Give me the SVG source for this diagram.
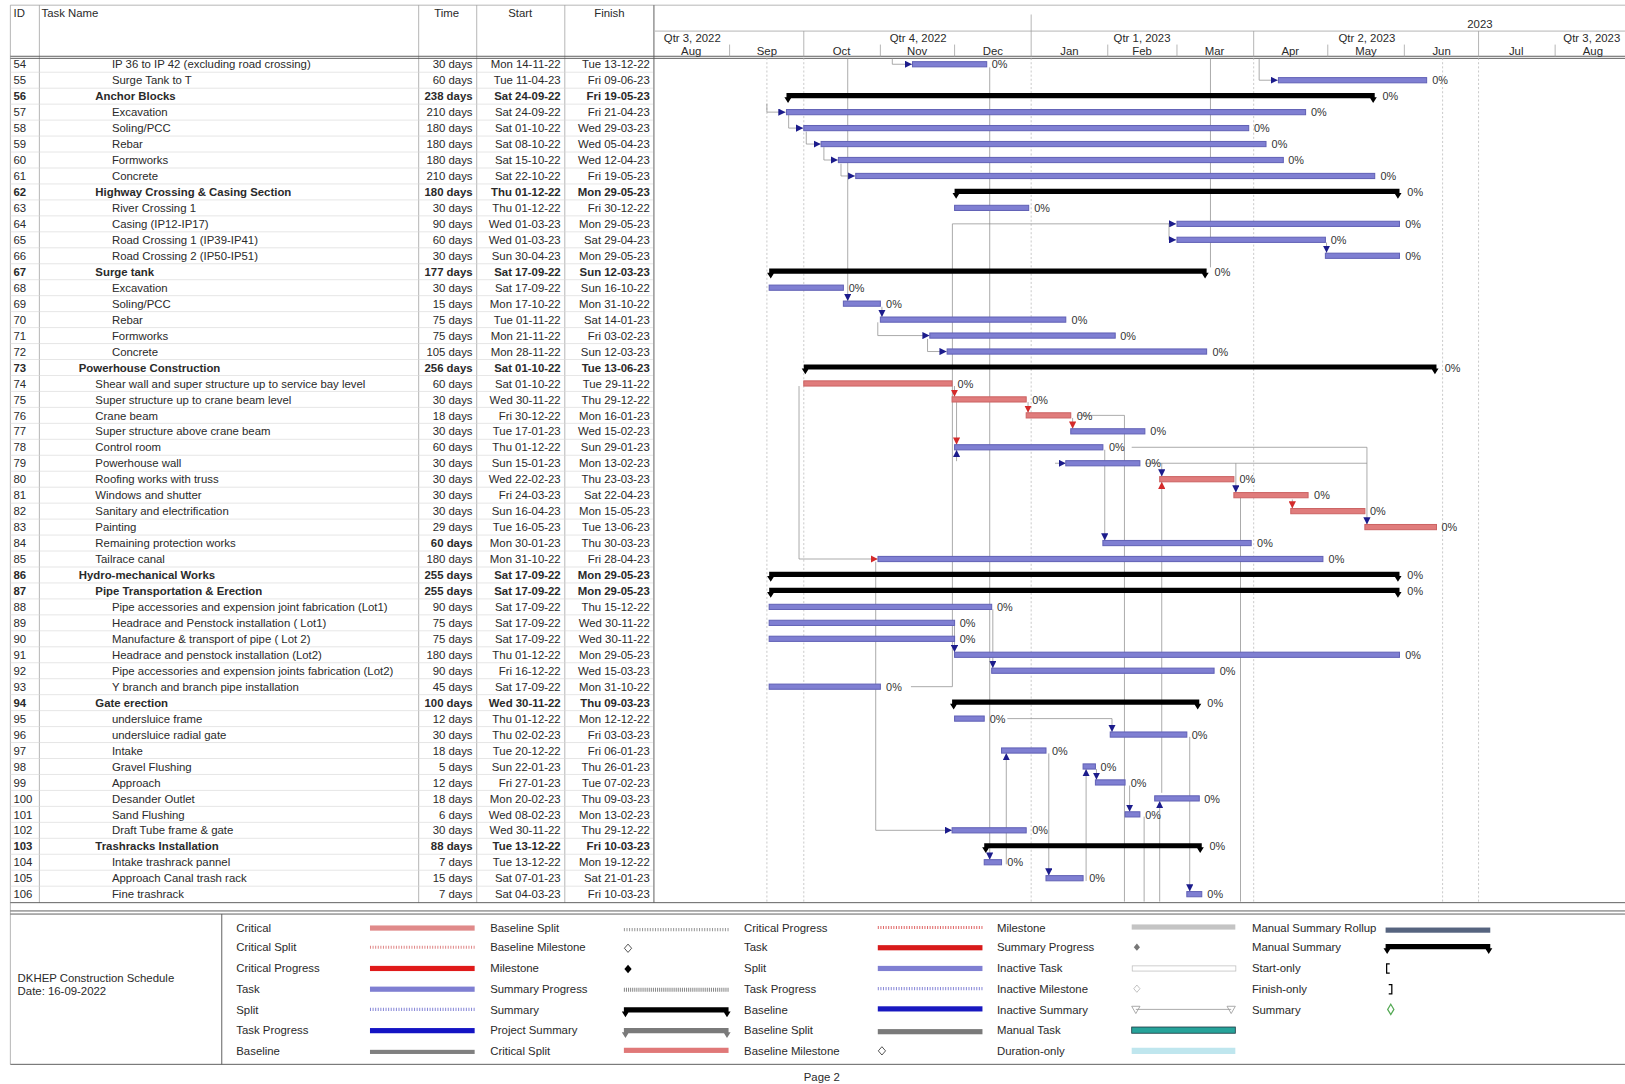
<svg xmlns="http://www.w3.org/2000/svg" width="1625" height="1084" viewBox="0 0 1625 1084">
<defs>
<style>
.t{font-family:"Liberation Sans",Arial,sans-serif;font-size:11px;fill:#2a2a2a}
.b{font-weight:bold}
.e{text-anchor:end}
.m{text-anchor:middle}
.p{font-family:"Liberation Sans",Arial,sans-serif;font-size:10.5px;fill:#333}
.bar{fill:#7f7fd2;stroke:#6262b6;stroke-width:1}
.crit{fill:#e07c7c;stroke:#cc6464;stroke-width:1}
.sum{fill:#000}
.lnk{fill:none;stroke:#8a8a8a;stroke-width:0.7}
.rl{fill:none;stroke:#d6d6d6;stroke-width:0.6}
.cl{fill:none;stroke:#9a9a9a;stroke-width:0.7}
.dk{fill:none;stroke:#555;stroke-width:0.9}
.gd{fill:none;stroke:#b5b5b5;stroke-width:0.7;stroke-dasharray:2 2}
</style>
<marker id="ab" markerUnits="userSpaceOnUse" markerWidth="7" markerHeight="7" viewBox="0 0 10 10" refX="10" refY="5" orient="auto"><path d="M0,0L10,5L0,10Z" fill="#1c1c8c"/></marker>
<marker id="ar" markerUnits="userSpaceOnUse" markerWidth="7" markerHeight="7" viewBox="0 0 10 10" refX="10" refY="5" orient="auto"><path d="M0,0L10,5L0,10Z" fill="#d42a2a"/></marker>
</defs>
<rect width="1625" height="1084" fill="#fff"/>
<g transform="scale(1.03635)">
<g id="frame">
<path class="cl" d="M10,5H1568M10,5V1027M38,5V871M404,5V871M460,5V871M545,5V871"/>
<path class="dk" d="M631,5V871M10,54.3H1568M10,56.3H1568M10,871H1568M10,879H1568M10,882H1568M214,882V1027M10,1027H1568"/>
<path class="rl" d="M10,69.7H630M10,85.1H630M10,100.5H630M10,115.9H630M10,131.3H630M10,146.7H630M10,162.1H630M10,177.5H630M10,192.9H630M10,208.3H630M10,223.7H630M10,239.1H630M10,254.5H630M10,269.9H630M10,285.3H630M10,300.7H630M10,316.1H630M10,331.5H630M10,346.9H630M10,362.3H630M10,377.7H630M10,393.1H630M10,408.5H630M10,423.9H630M10,439.3H630M10,454.7H630M10,470.1H630M10,485.5H630M10,500.9H630M10,516.3H630M10,531.7H630M10,547.1H630M10,562.5H630M10,577.9H630M10,593.3H630M10,608.7H630M10,624.1H630M10,639.5H630M10,654.9H630M10,670.3H630M10,685.7H630M10,701.1H630M10,716.5H630M10,731.9H630M10,747.3H630M10,762.7H630M10,778.1H630M10,793.5H630M10,808.9H630M10,824.3H630M10,839.7H630M10,855.1H630"/>
<text class="t" x="13" y="16">ID</text>
<text class="t" x="40" y="16">Task Name</text>
<text class="t m" x="431" y="16">Time</text>
<text class="t m" x="502" y="16">Start</text>
<text class="t m" x="588" y="16">Finish</text>
</g>
<g id="timescale">
<path class="cl" d="M632,30H1568M995,14V30M775.6,30V55M995,30V55M1209.7,30V55M1426.7,30V55M704,43V55M849.5,43V55M921.1,43V55M1068.9,43V55M1135.7,43V55M1281.2,43V55M1355.1,43V55M1500.6,43V55"/>
<text class="t m" x="1428" y="27">2023</text>
<text class="t m" x="668" y="41">Qtr 3, 2022</text>
<text class="t m" x="886" y="41">Qtr 4, 2022</text>
<text class="t m" x="1102" y="41">Qtr 1, 2023</text>
<text class="t m" x="1319" y="41">Qtr 2, 2023</text>
<text class="t m" x="1536" y="41">Qtr 3, 2023</text>
<text class="t m" x="667" y="53">Aug</text>
<text class="t m" x="740" y="53">Sep</text>
<text class="t m" x="812" y="53">Oct</text>
<text class="t m" x="885" y="53">Nov</text>
<text class="t m" x="958" y="53">Dec</text>
<text class="t m" x="1032" y="53">Jan</text>
<text class="t m" x="1102" y="53">Feb</text>
<text class="t m" x="1172" y="53">Mar</text>
<text class="t m" x="1245" y="53">Apr</text>
<text class="t m" x="1318" y="53">May</text>
<text class="t m" x="1391" y="53">Jun</text>
<text class="t m" x="1463" y="53">Jul</text>
<text class="t m" x="1537" y="53">Aug</text>
<path class="gd" d="M740,56V871M775.6,56V871M995,56V871M1209.7,56V871M1392,56V871M1426.7,56V871"/>
</g>
<g id="rows" transform="translate(0,1)">
<text class="t" x="13" y="65">54</text><text class="t" x="108" y="65">IP 36 to IP 42 (excluding road crossing)</text><text class="t e" x="456" y="65">30 days</text><text class="t e" x="541" y="65">Mon 14-11-22</text><text class="t e" x="627" y="65">Tue 13-12-22</text>
<text class="t" x="13" y="80.4">55</text><text class="t" x="108" y="80.4">Surge Tank to T</text><text class="t e" x="456" y="80.4">60 days</text><text class="t e" x="541" y="80.4">Tue 11-04-23</text><text class="t e" x="627" y="80.4">Fri 09-06-23</text>
<text class="t b" x="13" y="95.8">56</text><text class="t b" x="92" y="95.8">Anchor Blocks</text><text class="t b e" x="456" y="95.8">238 days</text><text class="t b e" x="541" y="95.8">Sat 24-09-22</text><text class="t b e" x="627" y="95.8">Fri 19-05-23</text>
<text class="t" x="13" y="111.2">57</text><text class="t" x="108" y="111.2">Excavation</text><text class="t e" x="456" y="111.2">210 days</text><text class="t e" x="541" y="111.2">Sat 24-09-22</text><text class="t e" x="627" y="111.2">Fri 21-04-23</text>
<text class="t" x="13" y="126.6">58</text><text class="t" x="108" y="126.6">Soling/PCC</text><text class="t e" x="456" y="126.6">180 days</text><text class="t e" x="541" y="126.6">Sat 01-10-22</text><text class="t e" x="627" y="126.6">Wed 29-03-23</text>
<text class="t" x="13" y="142">59</text><text class="t" x="108" y="142">Rebar</text><text class="t e" x="456" y="142">180 days</text><text class="t e" x="541" y="142">Sat 08-10-22</text><text class="t e" x="627" y="142">Wed 05-04-23</text>
<text class="t" x="13" y="157.4">60</text><text class="t" x="108" y="157.4">Formworks</text><text class="t e" x="456" y="157.4">180 days</text><text class="t e" x="541" y="157.4">Sat 15-10-22</text><text class="t e" x="627" y="157.4">Wed 12-04-23</text>
<text class="t" x="13" y="172.8">61</text><text class="t" x="108" y="172.8">Concrete</text><text class="t e" x="456" y="172.8">210 days</text><text class="t e" x="541" y="172.8">Sat 22-10-22</text><text class="t e" x="627" y="172.8">Fri 19-05-23</text>
<text class="t b" x="13" y="188.2">62</text><text class="t b" x="92" y="188.2">Highway Crossing &amp; Casing Section</text><text class="t b e" x="456" y="188.2">180 days</text><text class="t b e" x="541" y="188.2">Thu 01-12-22</text><text class="t b e" x="627" y="188.2">Mon 29-05-23</text>
<text class="t" x="13" y="203.6">63</text><text class="t" x="108" y="203.6">River Crossing 1</text><text class="t e" x="456" y="203.6">30 days</text><text class="t e" x="541" y="203.6">Thu 01-12-22</text><text class="t e" x="627" y="203.6">Fri 30-12-22</text>
<text class="t" x="13" y="219">64</text><text class="t" x="108" y="219">Casing (IP12-IP17)</text><text class="t e" x="456" y="219">90 days</text><text class="t e" x="541" y="219">Wed 01-03-23</text><text class="t e" x="627" y="219">Mon 29-05-23</text>
<text class="t" x="13" y="234.4">65</text><text class="t" x="108" y="234.4">Road Crossing 1 (IP39-IP41)</text><text class="t e" x="456" y="234.4">60 days</text><text class="t e" x="541" y="234.4">Wed 01-03-23</text><text class="t e" x="627" y="234.4">Sat 29-04-23</text>
<text class="t" x="13" y="249.8">66</text><text class="t" x="108" y="249.8">Road Crossing 2 (IP50-IP51)</text><text class="t e" x="456" y="249.8">30 days</text><text class="t e" x="541" y="249.8">Sun 30-04-23</text><text class="t e" x="627" y="249.8">Mon 29-05-23</text>
<text class="t b" x="13" y="265.2">67</text><text class="t b" x="92" y="265.2">Surge tank</text><text class="t b e" x="456" y="265.2">177 days</text><text class="t b e" x="541" y="265.2">Sat 17-09-22</text><text class="t b e" x="627" y="265.2">Sun 12-03-23</text>
<text class="t" x="13" y="280.6">68</text><text class="t" x="108" y="280.6">Excavation</text><text class="t e" x="456" y="280.6">30 days</text><text class="t e" x="541" y="280.6">Sat 17-09-22</text><text class="t e" x="627" y="280.6">Sun 16-10-22</text>
<text class="t" x="13" y="296">69</text><text class="t" x="108" y="296">Soling/PCC</text><text class="t e" x="456" y="296">15 days</text><text class="t e" x="541" y="296">Mon 17-10-22</text><text class="t e" x="627" y="296">Mon 31-10-22</text>
<text class="t" x="13" y="311.4">70</text><text class="t" x="108" y="311.4">Rebar</text><text class="t e" x="456" y="311.4">75 days</text><text class="t e" x="541" y="311.4">Tue 01-11-22</text><text class="t e" x="627" y="311.4">Sat 14-01-23</text>
<text class="t" x="13" y="326.8">71</text><text class="t" x="108" y="326.8">Formworks</text><text class="t e" x="456" y="326.8">75 days</text><text class="t e" x="541" y="326.8">Mon 21-11-22</text><text class="t e" x="627" y="326.8">Fri 03-02-23</text>
<text class="t" x="13" y="342.2">72</text><text class="t" x="108" y="342.2">Concrete</text><text class="t e" x="456" y="342.2">105 days</text><text class="t e" x="541" y="342.2">Mon 28-11-22</text><text class="t e" x="627" y="342.2">Sun 12-03-23</text>
<text class="t b" x="13" y="357.6">73</text><text class="t b" x="76" y="357.6">Powerhouse Construction</text><text class="t b e" x="456" y="357.6">256 days</text><text class="t b e" x="541" y="357.6">Sat 01-10-22</text><text class="t b e" x="627" y="357.6">Tue 13-06-23</text>
<text class="t" x="13" y="373">74</text><text class="t" x="92" y="373">Shear wall and super structure up to service bay level</text><text class="t e" x="456" y="373">60 days</text><text class="t e" x="541" y="373">Sat 01-10-22</text><text class="t e" x="627" y="373">Tue 29-11-22</text>
<text class="t" x="13" y="388.4">75</text><text class="t" x="92" y="388.4">Super structure  up to crane beam level</text><text class="t e" x="456" y="388.4">30 days</text><text class="t e" x="541" y="388.4">Wed 30-11-22</text><text class="t e" x="627" y="388.4">Thu 29-12-22</text>
<text class="t" x="13" y="403.8">76</text><text class="t" x="92" y="403.8">Crane beam</text><text class="t e" x="456" y="403.8">18 days</text><text class="t e" x="541" y="403.8">Fri 30-12-22</text><text class="t e" x="627" y="403.8">Mon 16-01-23</text>
<text class="t" x="13" y="419.2">77</text><text class="t" x="92" y="419.2">Super structure above crane beam</text><text class="t e" x="456" y="419.2">30 days</text><text class="t e" x="541" y="419.2">Tue 17-01-23</text><text class="t e" x="627" y="419.2">Wed 15-02-23</text>
<text class="t" x="13" y="434.6">78</text><text class="t" x="92" y="434.6">Control room</text><text class="t e" x="456" y="434.6">60 days</text><text class="t e" x="541" y="434.6">Thu 01-12-22</text><text class="t e" x="627" y="434.6">Sun 29-01-23</text>
<text class="t" x="13" y="450">79</text><text class="t" x="92" y="450">Powerhouse wall</text><text class="t e" x="456" y="450">30 days</text><text class="t e" x="541" y="450">Sun 15-01-23</text><text class="t e" x="627" y="450">Mon 13-02-23</text>
<text class="t" x="13" y="465.4">80</text><text class="t" x="92" y="465.4">Roofing works with truss</text><text class="t e" x="456" y="465.4">30 days</text><text class="t e" x="541" y="465.4">Wed 22-02-23</text><text class="t e" x="627" y="465.4">Thu 23-03-23</text>
<text class="t" x="13" y="480.8">81</text><text class="t" x="92" y="480.8">Windows and shutter</text><text class="t e" x="456" y="480.8">30 days</text><text class="t e" x="541" y="480.8">Fri 24-03-23</text><text class="t e" x="627" y="480.8">Sat 22-04-23</text>
<text class="t" x="13" y="496.2">82</text><text class="t" x="92" y="496.2">Sanitary and electrification</text><text class="t e" x="456" y="496.2">30 days</text><text class="t e" x="541" y="496.2">Sun 16-04-23</text><text class="t e" x="627" y="496.2">Mon 15-05-23</text>
<text class="t" x="13" y="511.6">83</text><text class="t" x="92" y="511.6">Painting</text><text class="t e" x="456" y="511.6">29 days</text><text class="t e" x="541" y="511.6">Tue 16-05-23</text><text class="t e" x="627" y="511.6">Tue 13-06-23</text>
<text class="t" x="13" y="527">84</text><text class="t" x="92" y="527">Remaining protection works</text><text class="t b e" x="456" y="527">60 days</text><text class="t e" x="541" y="527">Mon 30-01-23</text><text class="t e" x="627" y="527">Thu 30-03-23</text>
<text class="t" x="13" y="542.4">85</text><text class="t" x="92" y="542.4">Tailrace canal</text><text class="t e" x="456" y="542.4">180 days</text><text class="t e" x="541" y="542.4">Mon 31-10-22</text><text class="t e" x="627" y="542.4">Fri 28-04-23</text>
<text class="t b" x="13" y="557.8">86</text><text class="t b" x="76" y="557.8">Hydro-mechanical Works</text><text class="t b e" x="456" y="557.8">255 days</text><text class="t b e" x="541" y="557.8">Sat 17-09-22</text><text class="t b e" x="627" y="557.8">Mon 29-05-23</text>
<text class="t b" x="13" y="573.2">87</text><text class="t b" x="92" y="573.2">Pipe Transportation &amp; Erection</text><text class="t b e" x="456" y="573.2">255 days</text><text class="t b e" x="541" y="573.2">Sat 17-09-22</text><text class="t b e" x="627" y="573.2">Mon 29-05-23</text>
<text class="t" x="13" y="588.6">88</text><text class="t" x="108" y="588.6">Pipe accessories and expension joint fabrication  (Lot1)</text><text class="t e" x="456" y="588.6">90 days</text><text class="t e" x="541" y="588.6">Sat 17-09-22</text><text class="t e" x="627" y="588.6">Thu 15-12-22</text>
<text class="t" x="13" y="604">89</text><text class="t" x="108" y="604">Headrace and Penstock installation ( Lot1)</text><text class="t e" x="456" y="604">75 days</text><text class="t e" x="541" y="604">Sat 17-09-22</text><text class="t e" x="627" y="604">Wed 30-11-22</text>
<text class="t" x="13" y="619.4">90</text><text class="t" x="108" y="619.4">Manufacture &amp; transport of pipe ( Lot 2)</text><text class="t e" x="456" y="619.4">75 days</text><text class="t e" x="541" y="619.4">Sat 17-09-22</text><text class="t e" x="627" y="619.4">Wed 30-11-22</text>
<text class="t" x="13" y="634.8">91</text><text class="t" x="108" y="634.8">Headrace and penstock installation (Lot2)</text><text class="t e" x="456" y="634.8">180 days</text><text class="t e" x="541" y="634.8">Thu 01-12-22</text><text class="t e" x="627" y="634.8">Mon 29-05-23</text>
<text class="t" x="13" y="650.2">92</text><text class="t" x="108" y="650.2">Pipe accessories and expension joints fabrication (Lot2)</text><text class="t e" x="456" y="650.2">90 days</text><text class="t e" x="541" y="650.2">Fri 16-12-22</text><text class="t e" x="627" y="650.2">Wed 15-03-23</text>
<text class="t" x="13" y="665.6">93</text><text class="t" x="108" y="665.6">Y branch and branch pipe installation</text><text class="t e" x="456" y="665.6">45 days</text><text class="t e" x="541" y="665.6">Sat 17-09-22</text><text class="t e" x="627" y="665.6">Mon 31-10-22</text>
<text class="t b" x="13" y="681">94</text><text class="t b" x="92" y="681">Gate erection</text><text class="t b e" x="456" y="681">100 days</text><text class="t b e" x="541" y="681">Wed 30-11-22</text><text class="t b e" x="627" y="681">Thu 09-03-23</text>
<text class="t" x="13" y="696.4">95</text><text class="t" x="108" y="696.4">undersluice frame</text><text class="t e" x="456" y="696.4">12 days</text><text class="t e" x="541" y="696.4">Thu 01-12-22</text><text class="t e" x="627" y="696.4">Mon 12-12-22</text>
<text class="t" x="13" y="711.8">96</text><text class="t" x="108" y="711.8">undersluice radial gate</text><text class="t e" x="456" y="711.8">30 days</text><text class="t e" x="541" y="711.8">Thu 02-02-23</text><text class="t e" x="627" y="711.8">Fri 03-03-23</text>
<text class="t" x="13" y="727.2">97</text><text class="t" x="108" y="727.2">Intake</text><text class="t e" x="456" y="727.2">18 days</text><text class="t e" x="541" y="727.2">Tue 20-12-22</text><text class="t e" x="627" y="727.2">Fri 06-01-23</text>
<text class="t" x="13" y="742.6">98</text><text class="t" x="108" y="742.6">Gravel Flushing</text><text class="t e" x="456" y="742.6">5 days</text><text class="t e" x="541" y="742.6">Sun 22-01-23</text><text class="t e" x="627" y="742.6">Thu 26-01-23</text>
<text class="t" x="13" y="758">99</text><text class="t" x="108" y="758">Approach</text><text class="t e" x="456" y="758">12 days</text><text class="t e" x="541" y="758">Fri 27-01-23</text><text class="t e" x="627" y="758">Tue 07-02-23</text>
<text class="t" x="13" y="773.4">100</text><text class="t" x="108" y="773.4">Desander Outlet</text><text class="t e" x="456" y="773.4">18 days</text><text class="t e" x="541" y="773.4">Mon 20-02-23</text><text class="t e" x="627" y="773.4">Thu 09-03-23</text>
<text class="t" x="13" y="788.8">101</text><text class="t" x="108" y="788.8">Sand Flushing</text><text class="t e" x="456" y="788.8">6 days</text><text class="t e" x="541" y="788.8">Wed 08-02-23</text><text class="t e" x="627" y="788.8">Mon 13-02-23</text>
<text class="t" x="13" y="804.2">102</text><text class="t" x="108" y="804.2">Draft Tube frame &amp; gate</text><text class="t e" x="456" y="804.2">30 days</text><text class="t e" x="541" y="804.2">Wed 30-11-22</text><text class="t e" x="627" y="804.2">Thu 29-12-22</text>
<text class="t b" x="13" y="819.6">103</text><text class="t b" x="92" y="819.6">Trashracks Installation</text><text class="t b e" x="456" y="819.6">88 days</text><text class="t b e" x="541" y="819.6">Tue 13-12-22</text><text class="t b e" x="627" y="819.6">Fri 10-03-23</text>
<text class="t" x="13" y="835">104</text><text class="t" x="108" y="835">Intake trashrack pannel</text><text class="t e" x="456" y="835">7 days</text><text class="t e" x="541" y="835">Tue 13-12-22</text><text class="t e" x="627" y="835">Mon 19-12-22</text>
<text class="t" x="13" y="850.4">105</text><text class="t" x="108" y="850.4">Approach Canal trash rack</text><text class="t e" x="456" y="850.4">15 days</text><text class="t e" x="541" y="850.4">Sat 07-01-23</text><text class="t e" x="627" y="850.4">Sat 21-01-23</text>
<text class="t" x="13" y="865.8">106</text><text class="t" x="108" y="865.8">Fine trashrack</text><text class="t e" x="456" y="865.8">7 days</text><text class="t e" x="541" y="865.8">Sat 04-03-23</text><text class="t e" x="627" y="865.8">Fri 10-03-23</text>
</g>
<g id="connectors">
<path class="lnk" marker-end="url(#ab)" d="M861,56V62H880"/>
<path class="lnk" marker-end="url(#ab)" d="M1215,56V77.4H1233"/>
<path class="lnk" marker-end="url(#ab)" d="M740,100V108.2H758"/>
<path class="lnk" marker-end="url(#ab)" d="M761,111V123.6H775"/>
<path class="lnk" marker-end="url(#ab)" d="M778,127V139H792"/>
<path class="lnk" marker-end="url(#ab)" d="M795,142V154.4H808.5"/>
<path class="lnk" marker-end="url(#ab)" d="M811.5,158V169.8H825"/>
<path class="lnk" marker-end="url(#ab)" d="M879,662.6H919V216H1135"/>
<path class="lnk" marker-end="url(#ab)" d="M1128,216V231.4H1135"/>
<path class="lnk" marker-end="url(#ab)" d="M1280,234V244"/>
<path class="lnk" marker-end="url(#ab)" d="M818,56V290.5"/>
<path class="lnk" marker-end="url(#ab)" d="M851,296V305.9"/>
<path class="lnk" marker-end="url(#ab)" d="M847,311V323.8H897"/>
<path class="lnk" marker-end="url(#ab)" d="M895,327V339.2H913.5"/>
<path class="lnk" marker-end="url(#ar)" d="M771,372.5V539.4H847"/>
<path class="lnk" marker-end="url(#ar)" d="M921,372.5V382.9"/>
<path class="lnk" marker-end="url(#ar)" d="M992,388V398.3"/>
<path class="lnk" marker-end="url(#ar)" d="M1035,403.3V413.7"/>
<path class="lnk" marker-end="url(#ar)" d="M923,388V429.1"/>
<path class="lnk" marker-end="url(#ab)" d="M923,445V434.1"/>
<path class="lnk" marker-end="url(#ab)" d="M1018,447H1028.4"/>
<path class="lnk" marker-end="url(#ab)" d="M1092,431.6H1319V506.1"/>
<path class="lnk" d="M1105,447H1319"/>
<path class="lnk" marker-end="url(#ab)" d="M1121,447V459.9"/>
<path class="lnk" marker-end="url(#ab)" d="M1192.5,447V475.3"/>
<path class="lnk" marker-end="url(#ar)" d="M1121,765V464.9"/>
<path class="lnk" d="M1040,400.8H1085V870"/>
<path class="lnk" marker-end="url(#ab)" d="M1066,434V521.5"/>
<path class="lnk" d="M1197,480V870"/>
<path class="lnk" marker-end="url(#ar)" d="M1247,482V490.7"/>
<path class="lnk" marker-end="url(#ab)" d="M958,588V644.7"/>
<path class="lnk" marker-end="url(#ab)" d="M921,604V629.3"/>
<path class="lnk" marker-end="url(#ab)" d="M845,542V801.2H918.7"/>
<path class="lnk" marker-end="url(#ab)" d="M955,65V829.5"/>
<path class="lnk" marker-end="url(#ab)" d="M972,693.4H1073V706.3"/>
<path class="lnk" marker-end="url(#ab)" d="M971,834V726.7"/>
<path class="lnk" marker-end="url(#ab)" d="M1012,727V844.9"/>
<path class="lnk" marker-end="url(#ab)" d="M1048,850V742.1"/>
<path class="lnk" marker-end="url(#ab)" d="M1058,742V752.5"/>
<path class="lnk" marker-end="url(#ab)" d="M1090,758V783.3"/>
<path class="lnk" d="M1104,788V870"/>
<path class="lnk" marker-end="url(#ab)" d="M1119,870V772.9"/>
<path class="lnk" marker-end="url(#ab)" d="M1148,711V860.3"/>
<path class="lnk" d="M1168,56V258"/>
</g>
<g id="bars">
<rect class="bar" x="880.5" y="59.5" width="71.6" height="5"/>
<rect class="bar" x="1233.6" y="74.9" width="143" height="5"/>
<path id="s56" class="sum" d="M758.9,89.8H1326.5V94.8H758.9Z M756.9,93.8H763.9L760.4,99.3Z M1321.5,93.8H1328.5L1325,99.3Z"/>
<rect class="bar" x="758.9" y="105.7" width="500.9" height="5"/>
<rect class="bar" x="775.6" y="121.1" width="429.3" height="5"/>
<rect class="bar" x="792.3" y="136.5" width="429.3" height="5"/>
<rect class="bar" x="809" y="151.9" width="429.3" height="5"/>
<rect class="bar" x="825.7" y="167.3" width="500.8" height="5"/>
<path id="s62" class="sum" d="M921.1,182.2H1350.4V187.2H921.1Z M919.1,186.2H926.1L922.6,191.7Z M1345.4,186.2H1352.4L1348.9,191.7Z"/>
<rect class="bar" x="921.1" y="198.1" width="71.5" height="5"/>
<rect class="bar" x="1135.7" y="213.5" width="214.7" height="5"/>
<rect class="bar" x="1135.7" y="228.9" width="143.2" height="5"/>
<rect class="bar" x="1278.9" y="244.3" width="71.5" height="5"/>
<path id="s67" class="sum" d="M742.2,259.2H1164.3V264.2H742.2Z M740.2,263.2H747.2L743.7,268.7Z M1159.3,263.2H1166.3L1162.8,268.7Z"/>
<rect class="bar" x="742.2" y="275.1" width="71.6" height="5"/>
<rect class="bar" x="813.8" y="290.5" width="35.7" height="5"/>
<rect class="bar" x="849.5" y="305.9" width="178.9" height="5"/>
<rect class="bar" x="897.2" y="321.3" width="178.9" height="5"/>
<rect class="bar" x="913.9" y="336.7" width="250.4" height="5"/>
<path id="s73" class="sum" d="M775.6,351.6H1386.1V356.6H775.6Z M773.6,355.6H780.6L777.1,361.1Z M1381.1,355.6H1388.1L1384.6,361.1Z"/>
<rect class="crit" x="775.6" y="367.5" width="143.1" height="5"/>
<rect class="crit" x="918.7" y="382.9" width="71.5" height="5"/>
<rect class="crit" x="990.2" y="398.3" width="43" height="5"/>
<rect class="bar" x="1033.2" y="413.7" width="71.5" height="5"/>
<rect class="bar" x="921.1" y="429.1" width="143.1" height="5"/>
<rect class="bar" x="1028.4" y="444.5" width="71.5" height="5"/>
<rect class="crit" x="1119" y="459.9" width="71.6" height="5"/>
<rect class="crit" x="1190.6" y="475.3" width="71.6" height="5"/>
<rect class="crit" x="1245.5" y="490.7" width="71.5" height="5"/>
<rect class="crit" x="1317" y="506.1" width="69.1" height="5"/>
<rect class="bar" x="1064.2" y="521.5" width="143.1" height="5"/>
<rect class="bar" x="847.2" y="536.9" width="429.3" height="5"/>
<path id="s86" class="sum" d="M742.2,551.8H1350.4V556.8H742.2Z M740.2,555.8H747.2L743.7,561.3Z M1345.4,555.8H1352.4L1348.9,561.3Z"/>
<path id="s87" class="sum" d="M742.2,567.2H1350.4V572.2H742.2Z M740.2,571.2H747.2L743.7,576.7Z M1345.4,571.2H1352.4L1348.9,576.7Z"/>
<rect class="bar" x="742.2" y="583.1" width="214.7" height="5"/>
<rect class="bar" x="742.2" y="598.5" width="178.9" height="5"/>
<rect class="bar" x="742.2" y="613.9" width="178.9" height="5"/>
<rect class="bar" x="921.1" y="629.3" width="429.3" height="5"/>
<rect class="bar" x="956.9" y="644.7" width="214.6" height="5"/>
<rect class="bar" x="742.2" y="660.1" width="107.3" height="5"/>
<path id="s94" class="sum" d="M918.7,675H1157.2V680H918.7Z M916.7,679H923.7L920.2,684.5Z M1152.2,679H1159.2L1155.7,684.5Z"/>
<rect class="bar" x="921.1" y="690.9" width="28.6" height="5"/>
<rect class="bar" x="1071.3" y="706.3" width="73.9" height="5"/>
<rect class="bar" x="966.4" y="721.7" width="42.9" height="5"/>
<rect class="bar" x="1045.1" y="737.1" width="11.9" height="5"/>
<rect class="bar" x="1057" y="752.5" width="28.6" height="5"/>
<rect class="bar" x="1114.2" y="767.9" width="43" height="5"/>
<rect class="bar" x="1085.6" y="783.3" width="14.3" height="5"/>
<rect class="bar" x="918.7" y="798.7" width="71.5" height="5"/>
<path id="s103" class="sum" d="M949.7,813.6H1159.6V818.6H949.7Z M947.7,817.6H954.7L951.2,823.1Z M1154.6,817.6H1161.6L1158.1,823.1Z"/>
<rect class="bar" x="949.7" y="829.5" width="16.7" height="5"/>
<rect class="bar" x="1009.3" y="844.9" width="35.8" height="5"/>
<rect class="bar" x="1145.2" y="860.3" width="14.4" height="5"/>
</g>
<g id="progress-labels" transform="translate(0,1)">
<text class="p" x="957" y="65">0%</text><text class="p" x="1382" y="80.4">0%</text><text class="p" x="1334" y="95.8">0%</text><text class="p" x="1265" y="111.2">0%</text><text class="p" x="1210" y="126.6">0%</text><text class="p" x="1227" y="142">0%</text><text class="p" x="1243" y="157.4">0%</text><text class="p" x="1332" y="172.8">0%</text><text class="p" x="1358" y="188.2">0%</text><text class="p" x="998" y="203.6">0%</text><text class="p" x="1356" y="219">0%</text><text class="p" x="1284" y="234.4">0%</text><text class="p" x="1356" y="249.8">0%</text><text class="p" x="1172" y="265.2">0%</text><text class="p" x="819" y="280.6">0%</text><text class="p" x="855" y="296">0%</text><text class="p" x="1034" y="311.4">0%</text><text class="p" x="1081" y="326.8">0%</text><text class="p" x="1170" y="342.2">0%</text><text class="p" x="1394" y="357.6">0%</text><text class="p" x="924" y="373">0%</text><text class="p" x="996" y="388.4">0%</text><text class="p" x="1039" y="403.8">0%</text><text class="p" x="1110" y="419.2">0%</text><text class="p" x="1070" y="434.6">0%</text><text class="p" x="1105" y="450">0%</text><text class="p" x="1196" y="465.4">0%</text><text class="p" x="1268" y="480.8">0%</text><text class="p" x="1322" y="496.2">0%</text><text class="p" x="1391" y="511.6">0%</text><text class="p" x="1213" y="527">0%</text><text class="p" x="1282" y="542.4">0%</text><text class="p" x="1358" y="557.8">0%</text><text class="p" x="1358" y="573.2">0%</text><text class="p" x="962" y="588.6">0%</text><text class="p" x="926" y="604">0%</text><text class="p" x="926" y="619.4">0%</text><text class="p" x="1356" y="634.8">0%</text><text class="p" x="1177" y="650.2">0%</text><text class="p" x="855" y="665.6">0%</text><text class="p" x="1165" y="681">0%</text><text class="p" x="955" y="696.4">0%</text><text class="p" x="1150" y="711.8">0%</text><text class="p" x="1015" y="727.2">0%</text><text class="p" x="1062" y="742.6">0%</text><text class="p" x="1091" y="758">0%</text><text class="p" x="1162" y="773.4">0%</text><text class="p" x="1105" y="788.8">0%</text><text class="p" x="996" y="804.2">0%</text><text class="p" x="1167" y="819.6">0%</text><text class="p" x="972" y="835">0%</text><text class="p" x="1051" y="850.4">0%</text><text class="p" x="1165" y="865.8">0%</text>
</g>
<g id="legend">
<text class="t" x="17" y="948">DKHEP Construction Schedule</text>
<text class="t" x="17" y="960">Date: 16-09-2022</text>
<text class="t" x="228" y="899">Critical</text>
<text class="t" x="228" y="918">Critical Split</text>
<text class="t" x="228" y="938">Critical Progress</text>
<text class="t" x="228" y="958">Task</text>
<text class="t" x="228" y="978">Split</text>
<text class="t" x="228" y="998">Task Progress</text>
<text class="t" x="228" y="1018">Baseline</text>
<rect x="357" y="893" width="101" height="5" fill="#e08a8a"/>
<line x1="357" y1="914" x2="458" y2="914" stroke="#e08a8a" stroke-width="3" stroke-dasharray="1 1.5"/>
<rect x="357" y="932" width="101" height="5" fill="#e01a1a"/>
<rect x="357" y="952" width="101" height="5" fill="#7f7fd2"/>
<line x1="357" y1="974" x2="458" y2="974" stroke="#8a8ad8" stroke-width="3" stroke-dasharray="1 1.5"/>
<rect x="357" y="992" width="101" height="5" fill="#1414c4"/>
<rect x="357" y="1013" width="101" height="4" fill="#808080"/>
<text class="t" x="473" y="899">Baseline Split</text>
<text class="t" x="473" y="918">Baseline Milestone</text>
<text class="t" x="473" y="938">Milestone</text>
<text class="t" x="473" y="958">Summary Progress</text>
<text class="t" x="473" y="978">Summary</text>
<text class="t" x="473" y="998">Project Summary</text>
<text class="t" x="473" y="1018">Critical Split</text>
<line x1="602" y1="897" x2="703" y2="897" stroke="#999" stroke-width="3" stroke-dasharray="1 1.5"/>
<path d="M606,911L609.5,915L606,919L602.5,915Z" fill="#fff" stroke="#333" stroke-width="0.8"/>
<path d="M606,931L609.5,935L606,939L602.5,935Z" fill="#000"/>
<line x1="602" y1="955" x2="703" y2="955" stroke="#888" stroke-width="4" stroke-dasharray="1 1"/>
<path d="M602,972H703V977H602Z M600,976H607L603.5,981.5Z M698,976H705L701.5,981.5Z" fill="#000"/>
<path d="M602,992H703V997H602Z M600,996H607L603.5,1001.5Z M698,996H705L701.5,1001.5Z" fill="#7a7a7a"/>
<rect x="602" y="1011" width="101" height="5" fill="#e07878"/>
<text class="t" x="718" y="899">Critical Progress</text>
<text class="t" x="718" y="918">Task</text>
<text class="t" x="718" y="938">Split</text>
<text class="t" x="718" y="958">Task Progress</text>
<text class="t" x="718" y="978">Baseline</text>
<text class="t" x="718" y="998">Baseline Split</text>
<text class="t" x="718" y="1018">Baseline Milestone</text>
<line x1="847" y1="895" x2="948" y2="895" stroke="#e06a6a" stroke-width="3" stroke-dasharray="1 1.5"/>
<rect x="847" y="912" width="101" height="5" fill="#d81a1a"/>
<rect x="847" y="932" width="101" height="5" fill="#7f7fd2"/>
<line x1="847" y1="954" x2="948" y2="954" stroke="#8a8ad8" stroke-width="3" stroke-dasharray="1 1.5"/>
<rect x="847" y="971" width="101" height="5" fill="#1818c0"/>
<rect x="847" y="993" width="101" height="5" fill="#7a7a7a"/>
<path d="M851,1010L854.5,1014L851,1018L847.5,1014Z" fill="#fff" stroke="#333" stroke-width="0.8"/>
<text class="t" x="962" y="899">Milestone</text>
<text class="t" x="962" y="918">Summary Progress</text>
<text class="t" x="962" y="938">Inactive Task</text>
<text class="t" x="962" y="958">Inactive Milestone</text>
<text class="t" x="962" y="978">Inactive Summary</text>
<text class="t" x="962" y="998">Manual Task</text>
<text class="t" x="962" y="1018">Duration-only</text>
<rect x="1092" y="892" width="100" height="5" fill="#c4c4c4"/>
<path d="M1097,910.5L1100,914L1097,917.5L1094,914Z" fill="#777"/>
<rect x="1092.5" y="932" width="100" height="5" fill="#fff" stroke="#bbb" stroke-width="0.7"/>
<path d="M1097,950.5L1100,954L1097,957.5L1094,954Z" fill="#fff" stroke="#aaa" stroke-width="0.7"/>
<path d="M1096,974H1188 M1092,971H1100L1096,978Z M1184,971H1192L1188,978Z" fill="#fff" stroke="#999" stroke-width="0.8"/>
<rect x="1092" y="991" width="100" height="6" fill="#26a39a" stroke="#1c3a44" stroke-width="0.8"/>
<rect x="1092" y="1011" width="100" height="6" fill="#bfe6ee"/>
<text class="t" x="1208" y="899">Manual Summary Rollup</text>
<text class="t" x="1208" y="918">Manual Summary</text>
<text class="t" x="1208" y="938">Start-only</text>
<text class="t" x="1208" y="958">Finish-only</text>
<text class="t" x="1208" y="978">Summary</text>
<rect x="1337" y="895" width="101" height="5" fill="#56647f"/>
<path d="M1337,911H1438V916H1337Z M1335,915H1342L1338.5,920.5Z M1433,915H1440L1436.5,920.5Z" fill="#000"/>
<path d="M1341,930H1338V939H1341" fill="none" stroke="#000" stroke-width="1.2"/>
<path d="M1340,950H1343V959H1340" fill="none" stroke="#000" stroke-width="1.2"/>
<path d="M1342,969L1345,974L1342,979L1339,974Z" fill="#fff" stroke="#5a5" stroke-width="1.2"/>
<text class="t m" x="793" y="1043">Page 2</text>
</g>
</g>
</svg>
